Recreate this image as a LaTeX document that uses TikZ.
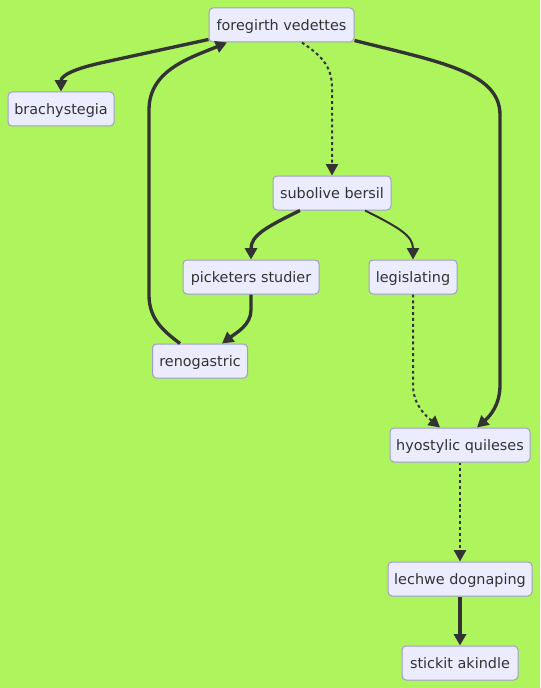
\documentclass[tikz,border=0pt]{standalone}
\usepackage{fontspec}
\setmainfont{DejaVu Sans}
\usetikzlibrary{arrows.meta,calc}
\definecolor{bgc}{HTML}{AEF45C}
\definecolor{nfill}{HTML}{ECECFF}
\definecolor{nline}{HTML}{A29BD0}
\definecolor{ecol}{HTML}{333333}
\tikzset{
  box/.style={draw=nline, line width=0.75pt, fill=nfill, rounded corners=3pt,
    minimum height=25.5pt, inner sep=0pt, text height=8.7pt, text depth=0pt,
    text=ecol, font=\fontsize{10.8pt}{12pt}\selectfont},
  thickedge/.style={draw=ecol, line width=2.5pt, -{Triangle[length=8.5pt,width=9pt]}},
  normedge/.style={draw=ecol, line width=1.5pt, -{Triangle[length=8.5pt,width=9pt]}},
  dotedge/.style={draw=ecol, line width=1.5pt, dash pattern=on 2.2pt off 2.2pt, -{Triangle[length=8.5pt,width=9pt]}},
}
\begin{document}
\begin{tikzpicture}[x=0.75pt,y=-0.75pt]
\path[fill=bgc] (0,0) rectangle (540,688);
\node[box, minimum width=108.75pt] (fv) at (281.5,25) {foregirth vedettes};
\node[box, minimum width=79.5pt] (br) at (61,109) {brachystegia};
\node[box, minimum width=88.5pt] (sb) at (332,193) {subolive bersil};
\node[box, minimum width=102pt] (ps) at (251,277) {picketers studier};
\node[box, minimum width=66pt] (lg) at (413,277) {legislating};
\node[box, minimum width=71.25pt] (rg) at (200,361) {renogastric};
\node[box, minimum width=105pt] (hq) at (460,445) {hyostylic quileses};
\node[box, minimum width=108pt] (ld) at (460,579) {lechwe dognaping};
\node[box, minimum width=87pt] (sa) at (460,663) {stickit akindle};
% fv -> br
\draw[thickedge] ([shift={(0,-3)}]fv.south west) -- (105,62) .. controls (72,69) and (61,76) .. (br.north);
% rg -> fv
\draw[thickedge] ([shift={(-20,0)}]rg.north) .. controls (162,330) and (149,318) .. (149,295)
  -- (149,110) .. controls (149,70) and (190,58) .. ([shift={(-54.5,0)}]fv.south);
% fv -> sb dotted
\draw[dotedge] ([shift={(20.5,0)}]fv.south) .. controls (320,55) and (332,65) .. (332,88) -- (sb.north);
% fv -> hq
\draw[thickedge] ([shift={(0,-2)}]fv.south east) .. controls (440,62) and (500,72) .. (500,115)
  -- (500,385) .. controls (500,405) and (490,416) .. ([shift={(17,0)}]hq.north);
% sb -> ps
\draw[thickedge] ([shift={(-32,0)}]sb.south) .. controls (264,228) and (251,236) .. (ps.north);
% sb -> lg
\draw[normedge] ([shift={(33,0)}]sb.south) .. controls (400,228) and (413,236) .. (lg.north);
% ps -> rg
\draw[thickedge] (ps.south) -- (251,310) .. controls (251,325) and (236,333) .. ([shift={(22,0)}]rg.north);
% lg -> hq dotted
\draw[dotedge] (lg.south) -- (413,385) .. controls (413,405) and (426,416) .. ([shift={(-20,0)}]hq.north);
% hq -> ld dotted
\draw[dotedge] (hq.south) -- (ld.north);
% ld -> sa
\draw[thickedge] (ld.south) -- (sa.north);
\end{tikzpicture}
\end{document}
